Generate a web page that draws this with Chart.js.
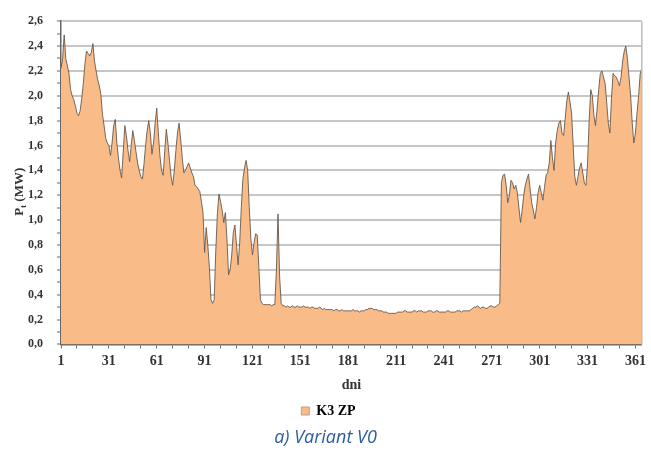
<!DOCTYPE html>
<html>
<head>
<meta charset="utf-8">
<script src="https://cdn.jsdelivr.net/npm/chart.js@4/dist/chart.umd.min.js"></script>
<style>
    html, body { margin: 0; padding: 0; background: #fff; }
    #wrap { position: relative; width: 651px; height: 457px; }
    #chart { position: absolute; left: 0; top: 0; }
    #caption {
        position: absolute; left: 0; top: 424px; width: 651px; text-align: center;
        font-family: 'Open Sans', sans-serif; font-style: italic; font-size: 18px; color: #2d5ba2;
    }
</style>
</head>
<body>
<div id="wrap">
    <canvas id="chart" width="651" height="428"></canvas>
    <div id="caption">a) Variant V0</div>
</div>
<script>
// Daily load P_t (MW), K3 ZP, variant V0
const SERIES_LABEL = 'K3 ZP';
const X_TITLE = 'dni';

const K3_ZP = [
    // days 1-35
    2.22, 2.30, 2.49, 2.30, 2.24, 2.18, 2.05, 2.00, 1.97, 1.92,
    1.86, 1.84, 1.88, 1.98, 2.10, 2.26, 2.36, 2.34, 2.32, 2.35,
    2.42, 2.28, 2.20, 2.13, 2.08, 2.01, 1.85, 1.76, 1.66, 1.62,
    1.60, 1.52, 1.62, 1.76, 1.81,
    // days 36-75
    1.62, 1.50, 1.40, 1.34, 1.55, 1.76, 1.68, 1.56, 1.47, 1.60,
    1.72, 1.64, 1.55, 1.46, 1.40, 1.35, 1.33, 1.45, 1.60, 1.72,
    1.80, 1.70, 1.53, 1.62, 1.78, 1.90, 1.70, 1.52, 1.40, 1.36,
    1.55, 1.73, 1.62, 1.48, 1.35, 1.28, 1.40, 1.56, 1.70, 1.78,
    // days 76-140
    1.65, 1.50, 1.38, 1.40, 1.43, 1.46, 1.42, 1.38, 1.35, 1.28,
    1.27, 1.25, 1.23, 1.15, 1.06, 0.74, 0.94, 0.80, 0.62, 0.36,
    0.33, 0.36, 0.75, 1.05, 1.21, 1.15, 1.08, 0.98, 1.06, 0.85,
    0.56, 0.60, 0.72, 0.90, 0.96, 0.80, 0.64, 0.82, 1.10, 1.33,
    1.42, 1.48, 1.40, 1.10, 0.85, 0.72, 0.82, 0.89, 0.88, 0.62,
    0.36, 0.33, 0.32, 0.32, 0.32, 0.32, 0.32, 0.31, 0.32, 0.32,
    0.60, 1.05, 0.55, 0.33, 0.31,
    // days 141-276
    0.31, 0.30, 0.31, 0.30, 0.30, 0.31, 0.30, 0.30, 0.31, 0.30,
    0.30, 0.30, 0.31, 0.30, 0.30, 0.30, 0.29, 0.30, 0.30, 0.29,
    0.29, 0.29, 0.30, 0.29, 0.28, 0.29, 0.28, 0.28, 0.28, 0.28,
    0.28, 0.27, 0.28, 0.28, 0.27, 0.27, 0.28, 0.27, 0.27, 0.27,
    0.27, 0.27, 0.27, 0.28, 0.27, 0.27, 0.27, 0.26, 0.27, 0.27,
    0.27, 0.28, 0.28, 0.29, 0.29, 0.29, 0.28, 0.28, 0.28, 0.27,
    0.27, 0.27, 0.26, 0.26, 0.26, 0.25, 0.25, 0.25, 0.25, 0.25,
    0.25, 0.26, 0.26, 0.26, 0.26, 0.27, 0.27, 0.26, 0.26, 0.26,
    0.26, 0.27, 0.27, 0.26, 0.27, 0.27, 0.27, 0.26, 0.26, 0.26,
    0.27, 0.27, 0.27, 0.26, 0.26, 0.27, 0.27, 0.26, 0.26, 0.26,
    0.26, 0.26, 0.27, 0.27, 0.26, 0.26, 0.26, 0.26, 0.27, 0.27,
    0.27, 0.26, 0.27, 0.27, 0.27, 0.27, 0.27, 0.28, 0.29, 0.30,
    0.30, 0.31, 0.30, 0.29, 0.30, 0.30, 0.29, 0.29, 0.30, 0.31,
    0.31, 0.30, 0.30, 0.31, 0.32, 0.33,
    // days 277-365
    1.30, 1.36, 1.37, 1.28, 1.14, 1.20, 1.32, 1.30, 1.25, 1.28,
    1.22, 1.10, 0.98, 1.08, 1.20, 1.28, 1.33, 1.37, 1.25, 1.14,
    1.08, 1.01, 1.10, 1.22, 1.28, 1.22, 1.16, 1.26, 1.36, 1.38,
    1.46, 1.64, 1.50, 1.40, 1.62, 1.72, 1.78, 1.80, 1.70, 1.68,
    1.82, 1.96, 2.03, 1.95, 1.86, 1.60, 1.35, 1.28, 1.35, 1.42,
    1.46, 1.38, 1.30, 1.28, 1.45, 1.80, 2.05, 2.00, 1.84, 1.76,
    1.90, 2.05, 2.18, 2.20, 2.15, 2.10, 1.95, 1.78, 1.70, 1.98,
    2.18, 2.16, 2.15, 2.12, 2.08, 2.15, 2.28, 2.36, 2.40, 2.30,
    2.15, 2.00, 1.78, 1.62, 1.70, 1.86, 2.00, 2.18, 2.22
];

const DAYS = K3_ZP.map((_, i) => i + 1);
const X_LABELS = [1, 31, 61, 91, 121, 151, 181, 211, 241, 271, 301, 331, 361];
const X_TICK_MARKS = [1, 11, 21, 31, 41, 51, 61, 71, 81, 91, 101, 111, 121, 131, 141, 151, 161, 171, 181,
    191, 201, 211, 221, 231, 241, 251, 261, 271, 281, 291, 301, 311, 321, 331, 341, 351, 361];
const Y_TICKS = [0, 0.1, 0.2, 0.3, 0.4, 0.5, 0.6, 0.7, 0.8, 0.9, 1.0, 1.1, 1.2, 1.3,
    1.4, 1.5, 1.6, 1.7, 1.8, 1.9, 2.0, 2.1, 2.2, 2.3, 2.4, 2.5, 2.6];

const FILL = '#f9bc89';
const LINE = 'rgba(95, 82, 70, 0.85)';
const AXIS = '#666';
const TXT = '#333';
const SERIF = "'Liberation Serif', 'Times New Roman', serif";

const isMajor = (v) => Math.round(v * 10) % 2 === 0;
const fmtComma = (v) => v.toFixed(1).replace('.', ',');

// y axis title with a subscript t, drawn by hand
const yTitlePlugin = {
    id: 'yTitle',
    afterDraw(chart) {
        const { ctx, chartArea } = chart;
        const cy = (chartArea.top + chartArea.bottom) / 2 + 9;
        ctx.save();
        ctx.translate(18, cy);
        ctx.rotate(-Math.PI / 2);
        ctx.fillStyle = TXT;
        ctx.textBaseline = 'alphabetic';
        ctx.font = `bold 13px ${SERIF}`;
        const pW = ctx.measureText('P').width;
        ctx.font = `bold 9px ${SERIF}`;
        const tW = ctx.measureText('t').width;
        ctx.font = `bold 13px ${SERIF}`;
        const rest = ' (MW)';
        const rW = ctx.measureText(rest).width;
        let x = -(pW + tW + rW) / 2;
        ctx.fillText('P', x, 5);
        x += pW;
        ctx.font = `bold 9px ${SERIF}`;
        ctx.fillText('t', x, 8);
        x += tW;
        ctx.font = `bold 13px ${SERIF}`;
        ctx.fillText(rest, x, 5);
        ctx.restore();
    }
};

// right frame line of the plot
const framePlugin = {
    id: 'frame',
    afterDatasetsDraw(chart) {
        const { ctx, chartArea } = chart;
        ctx.save();
        ctx.strokeStyle = '#bdbdbd';
        ctx.lineWidth = 1.5;
        ctx.beginPath();
        ctx.moveTo(chartArea.right, chartArea.top);
        ctx.lineTo(chartArea.right, chartArea.bottom);
        ctx.stroke();
        ctx.restore();
    }
};

new Chart(document.getElementById('chart'), {
    type: 'line',
    data: {
        labels: DAYS,
        datasets: [{
            label: SERIES_LABEL,
            data: DAYS.map((d, i) => ({ x: d, y: K3_ZP[i] })),
            borderColor: LINE,
            borderWidth: 1,
            backgroundColor: FILL,
            fill: 'origin',
            pointRadius: 0,
            tension: 0,
        }]
    },
    options: {
        responsive: false,
        animation: false,
        layout: { padding: { left: 14, right: 8, top: 16, bottom: 0 } },
        plugins: {
            legend: {
                position: 'bottom',
                labels: {
                    boxWidth: 8, boxHeight: 8, padding: 10,
                    color: TXT, font: { family: SERIF, size: 14, weight: 'bold' },
                    generateLabels: (chart) => [{
                        text: SERIES_LABEL, fillStyle: FILL, strokeStyle: '#b9a08a',
                        lineWidth: 1, datasetIndex: 0
                    }]
                }
            },
            tooltip: { enabled: false }
        },
        scales: {
            x: {
                type: 'linear', min: 1, max: 365,
                afterBuildTicks: (axis) => { axis.ticks = X_TICK_MARKS.map(v => ({ value: v })); },
                ticks: {
                    autoSkip: false, maxRotation: 0, padding: 5, color: TXT,
                    font: { family: SERIF, size: 14, weight: 'bold' },
                    callback: (v) => X_LABELS.includes(v) ? String(v) : ''
                },
                grid: { drawOnChartArea: false, tickLength: 4, color: AXIS, lineWidth: 1 },
                border: { color: AXIS, width: 1.5 },
                title: {
                    display: true, text: X_TITLE, color: TXT, padding: { top: 2, bottom: 0 },
                    font: { family: SERIF, size: 14, weight: 'bold' }
                }
            },
            y: {
                min: 0, max: 2.6,
                afterBuildTicks: (axis) => { axis.ticks = Y_TICKS.map(v => ({ value: v })); },
                ticks: {
                    autoSkip: false, padding: 14, color: TXT,
                    font: { family: SERIF, size: 12, weight: 'bold' },
                    callback: (v) => isMajor(v) ? fmtComma(v) : ''
                },
                grid: {
                    color: (c) => (c.tick && isMajor(c.tick.value) && c.tick.value > 0) ? '#c6c6c6' : 'rgba(0,0,0,0)',
                    lineWidth: 2,
                    tickColor: AXIS, tickWidth: 1, tickLength: 4
                },
                border: { color: AXIS, width: 1.5 }
            }
        }
    },
    plugins: [yTitlePlugin, framePlugin]
});
</script>
</body>
</html>
